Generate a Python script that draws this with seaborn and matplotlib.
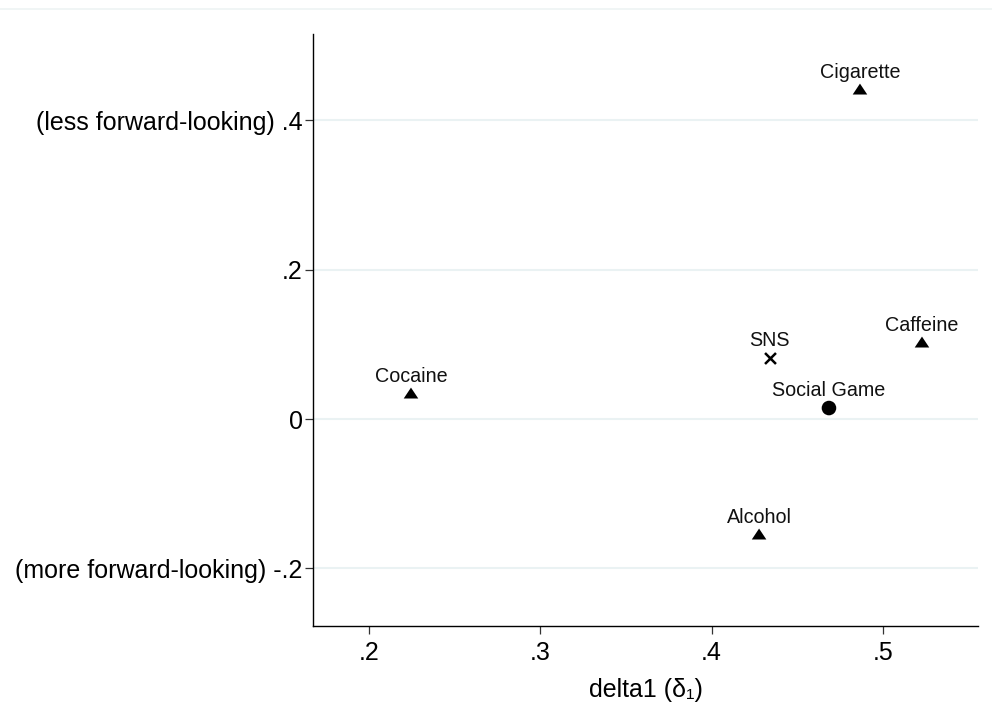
import matplotlib
matplotlib.use("Agg")
import matplotlib.pyplot as plt
from matplotlib.path import Path
from matplotlib.lines import Line2D
import seaborn as sns
import pandas as pd

# Estimated time-preference parameters per good
goods = ["Cigarette", "Caffeine", "SNS", "Social Game", "Cocaine", "Alcohol"]
delta1 = [0.4866, 0.5228, 0.4340, 0.4685, 0.2245, 0.4277]
beta_dev = [0.4406, 0.1018, 0.0817, 0.0147, 0.0335, -0.1553]
group = ["Substance", "Substance", "SNS", "Social Game", "Substance", "Substance"]

xticks = [0.2, 0.3, 0.4, 0.5]
xtick_labels = [".2", ".3", ".4", ".5"]
yticks = [-0.2, 0.0, 0.2, 0.4]
ytick_labels = ["(more forward-looking) -.2", "0", ".2", "(less forward-looking) .4"]

df = pd.DataFrame({"delta1": delta1, "beta": beta_dev, "good": goods, "group": group})

sns.set_theme(style="white")
plt.rcParams["font.family"] = ["Liberation Sans", "DejaVu Sans"]

fig = plt.figure(figsize=(9.92, 7.17), dpi=100)
ax = fig.add_axes([313 / 992, 1 - 626 / 717, (978 - 313) / 992, (626 - 34) / 717])

# flat triangle, a bit wider than tall
tri = Path([(-1, -0.62), (1, -0.62), (0, 0.88), (-1, -0.62)],
           [Path.MOVETO, Path.LINETO, Path.LINETO, Path.CLOSEPOLY])
markers = {"Substance": tri, "Social Game": "o"}

for yv in yticks:
    ax.axhline(yv, color="#EAF2F3", lw=1.5, zorder=0)

sns.scatterplot(data=df[df.group != "SNS"], x="delta1", y="beta", style="group",
                markers=markers, color="black", s=110, edgecolor="black",
                linewidth=0, legend=False, ax=ax, zorder=3)
sns.scatterplot(data=df[df.group == "SNS"], x="delta1", y="beta", marker="x",
                color="black", s=62, linewidth=1.8, legend=False, ax=ax, zorder=3)

for _, r in df.iterrows():
    ax.annotate(r["good"], (r["delta1"], r["beta"]), xytext=(0, 8.5),
                textcoords="offset points", ha="center", va="baseline",
                fontsize=14.2, color="#111111")

ax.set_xlim(0.1673, 0.5555)
ax.set_ylim(-0.2772, 0.5156)
ax.set_xticks(xticks)
ax.set_xticklabels(xtick_labels)
ax.set_yticks(yticks)
ax.set_yticklabels(ytick_labels)
ax.tick_params(axis="both", which="major", direction="out", length=6, width=0.9,
               color="#333333", labelsize=18, labelcolor="black", left=True, bottom=True)
ax.tick_params(axis="y", pad=1.5)
ax.tick_params(axis="x", pad=5)

for side in ["top", "right"]:
    ax.spines[side].set_visible(False)
for side in ["left", "bottom"]:
    ax.spines[side].set_color("black")
    ax.spines[side].set_linewidth(1.0)

ax.set_xlabel("delta1 (δ\u2081)", fontsize=18, labelpad=9, color="black")
ax.set_ylabel("")
ax.grid(False)

# faint outer frame line along the top
fig.add_artist(Line2D([0, 1], [1 - 9 / 717, 1 - 9 / 717], transform=fig.transFigure,
                      color="#EEF3F4", lw=1.2))

fig.savefig("out.png", dpi=100, facecolor="white")
